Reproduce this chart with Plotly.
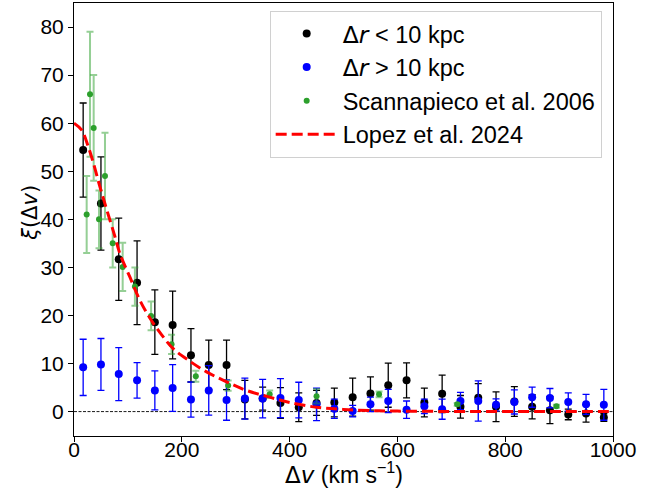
import plotly.graph_objects as go

# ---- data ----
bin_v = [17, 50, 83, 117, 150, 183, 217, 250, 283, 317,
         350, 383, 417, 450, 483, 517, 550, 583, 617, 650,
         683, 717, 750, 783, 817, 850, 883, 917, 950, 983]

near_xi = [54.4, 43.3, 31.7, 26.8, 18.6, 18.0, 11.7, 9.7, 9.7, 2.5,
           2.7, 1.8, 0.9, 1.8, 1.9, 3.0, 3.75, 5.5, 6.5, 1.9,
           3.7, 1.0, 2.9, 1.0, 2.1, 1.0, 0.3, -0.6, -0.4, -1.25]
near_err = [9.8, 9.7, 8.55, 8.7, 6.7, 7.05, 5.55, 5.15, 5.15, 4.0,
            2.4, 3.2, 3.0, 2.6, 3.0, 3.95, 3.45, 4.6, 3.65, 3.0,
            3.9, 2.35, 2.9, 3.1, 3.1, 2.5, 2.8, 1.1, 1.8, 0.8]

far_xi = [9.2, 9.8, 7.8, 6.5, 4.4, 4.9, 2.5, 4.4, 2.4, 2.7,
          2.7, 2.8, 2.4, 1.5, 0.6, 0.1, 1.5, 2.2, 0.4, 1.1,
          0.5, 2.2, 2.2, 1.4, 2.0, 3.0, 2.8, 2.0, 1.5, 1.4]
far_err = [5.85, 5.4, 5.5, 3.7, 4.05, 4.85, 3.65, 5.15, 4.2, 4.25,
           4.0, 4.05, 3.7, 3.4, 2.0, 1.2, 1.5, 2.4, 1.8, 1.5,
           2.1, 1.8, 4.2, 1.25, 2.5, 2.1, 2.0, 1.9, 2.1, 3.2]

s06_v = [23.5, 29.7, 36.5, 46.4, 57.5, 71.8, 90.3, 113, 143, 181,
         226, 286, 363, 450, 566, 711, 895]
s06_xi = [41.0, 66.0, 59.0, 40.0, 49.0, 35.0, 30.1, 26.0, 19.9, 14.0,
          7.35, 5.4, 3.6, 3.2, 3.6, 1.5, 1.1]
s06_err = [8, 13, 11, 6, 9, 5, 5, 4, 3, 2,
           1.15, 1.05, 0.8, 1.5, 0.6, 0.3, 0.3]

lopez_v = [0, 14, 26.5, 36, 48, 61, 76, 85, 104, 122, 141, 163, 184, 212,
           246, 283, 320, 363, 400, 450, 500, 550, 600, 700, 800, 900, 1000]
lopez_xi = [60.0, 58.6, 55.1, 51.7, 46.8, 41.9, 36.4, 32.9, 27.9, 23.2, 19.4,
            15.9, 13.1, 10.7, 8.25, 6.2, 4.4, 3.0, 1.9, 0.9, 0.45, 0.2, 0.1,
            0.03, 0.01, 0.0, 0.0]

x_ticks = [0, 200, 400, 600, 800, 1000]
y_ticks = [0, 10, 20, 30, 40, 50, 60, 70, 80]

FONT = "Liberation Sans, Arial, sans-serif"

fig = go.Figure()

fig.add_trace(go.Scatter(
    x=bin_v, y=near_xi, mode="markers", legendgroup="a",
    name="<span style='font-family:DejaVu Sans'>Δ<i>r</i></span> &lt; 10 kpc",
    marker=dict(color="black", size=8),
    error_y=dict(type="data", array=near_err, visible=True,
                 color="black", thickness=1.3, width=3.5),
))
fig.add_trace(go.Scatter(
    x=bin_v, y=far_xi, mode="markers", legendgroup="b",
    name="<span style='font-family:DejaVu Sans'>Δ<i>r</i></span> &gt; 10 kpc",
    marker=dict(color="#0000ff", size=8),
    error_y=dict(type="data", array=far_err, visible=True,
                 color="#0000ff", thickness=1.3, width=3.5),
))
fig.add_trace(go.Scatter(
    x=s06_v, y=s06_xi, mode="markers", legendgroup="c",
    name="Scannapieco et al. 2006",
    marker=dict(color="#2ca02c", size=6),
    error_y=dict(type="data", array=s06_err, visible=True,
                 color="rgba(44,160,44,0.5)", thickness=2, width=3.5),
))
fig.add_trace(go.Scatter(
    x=lopez_v, y=lopez_xi, mode="lines", legendgroup="d",
    name="Lopez et al. 2024",
    line=dict(color="#ff0000", width=3, dash="11px,5px", shape="spline"),
))

fig.add_shape(type="line", xref="paper", yref="y", x0=0, x1=1, y0=0, y1=0,
              line=dict(color="black", width=0.9, dash="3px,1.5px"), layer="below")

fig.add_annotation(
    text="<span style='font-family:DejaVu Sans'>Δ<i>v</i></span> (km s<sup>−1</sup>)",
    xref="paper", yref="paper", x=0.5, y=-0.086, xanchor="center", yanchor="middle",
    showarrow=False, font=dict(family=FONT, size=23, color="black"),
)
fig.add_annotation(
    text="<span style='font-family:DejaVu Sans'><i>ξ</i>(Δ<i>v</i>)</span>",
    xref="paper", yref="paper", x=-0.082, y=0.515, xanchor="center", yanchor="middle",
    textangle=-90, showarrow=False, font=dict(family=FONT, size=21, color="black"),
)

fig.update_layout(
    width=667, height=497,
    margin=dict(l=74, r=54, t=3, b=61, autoexpand=False),
    paper_bgcolor="white", plot_bgcolor="white",
    font=dict(family=FONT, size=21, color="black"),
    showlegend=True,
    legend=dict(
        x=0.979, y=0.982, xanchor="right", yanchor="top",
        bgcolor="rgba(255,255,255,0.8)", bordercolor="#d0d0d0", borderwidth=1,
        font=dict(family=FONT, size=23.5, color="black"),
        itemwidth=62, tracegroupgap=0,
    ),
    xaxis=dict(
        range=[0, 1000], tickvals=x_ticks, automargin=False,
        ticks="outside", ticklen=5, tickwidth=1, tickcolor="black",
        showline=True, linecolor="black", linewidth=1, mirror=True,
        showgrid=False, zeroline=False, ticklabelstandoff=-10,
        tickfont=dict(family=FONT, size=21),
    ),
    yaxis=dict(
        range=[-5.08, 85.0], tickvals=y_ticks, automargin=False,
        ticks="outside", ticklen=5, tickwidth=1, tickcolor="black",
        showline=True, linecolor="black", linewidth=1, mirror=True,
        showgrid=False, zeroline=False,
        tickfont=dict(family=FONT, size=21),
    ),
)

fig.write_html(
    "out.html",
    config={"displayModeBar": False},
    post_script="document.body.style.margin='0';document.body.style.overflow='hidden';",
)
